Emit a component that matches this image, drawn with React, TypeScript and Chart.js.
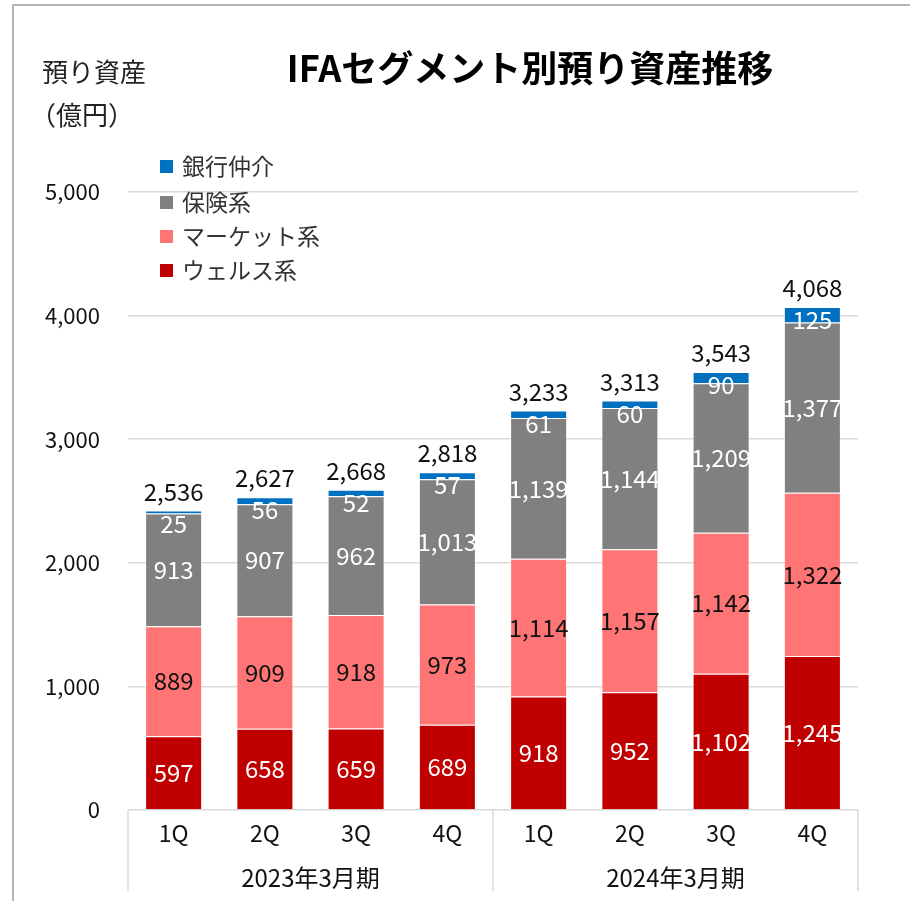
import React, { useEffect, useRef } from "react";
import { Chart, registerables } from "chart.js";

Chart.register(...registerables);

const FONT = '"Noto Sans CJK JP", "Noto Sans", sans-serif';

const categories = ["1Q", "2Q", "3Q", "4Q", "1Q", "2Q", "3Q", "4Q"];
const fiscalGroups = ["2023年3月期", "2024年3月期"];
const groupSizes = [4, 4];

const seriesNames = ["ウェルス系", "マーケット系", "保険系", "銀行仲介"];
const wealth = [597, 658, 659, 689, 918, 952, 1102, 1245];
const market = [889, 909, 918, 973, 1114, 1157, 1142, 1322];
const insurance = [913, 907, 962, 1013, 1139, 1144, 1209, 1377];
const bank = [25, 56, 52, 57, 61, 60, 90, 125];
const totals = [2536, 2627, 2668, 2818, 3233, 3313, 3543, 4068];

const yTickMax = 5000;
const yTickStep = 1000;

const titleText = "IFAセグメント別預り資産推移";
const yTitleLines = ["預り資産", "（億円）"];

const colors = ["#C00000", "#FF7575", "#808080", "#0070C0"];
const labelColors = ["#ffffff", "#111111", "#ffffff", "#ffffff"];

const fmt = (v: number) => v.toLocaleString("en-US");

export default function App() {
  const ref = useRef<HTMLCanvasElement>(null);

  useEffect(() => {
    document.body.style.margin = "0";
    const canvas = ref.current!;

    const decorPlugin = {
      id: "decor",
      beforeDraw(chart: any) {
        const ctx = chart.ctx;
        ctx.save();
        ctx.fillStyle = "#ffffff";
        ctx.fillRect(0, 0, chart.width, chart.height);
        ctx.strokeStyle = "#b4b4b4";
        ctx.lineWidth = 2;
        ctx.strokeRect(13, 5, chart.width + 20, chart.height + 20);
        ctx.restore();
      },
      afterDraw(chart: any) {
        const ctx = chart.ctx;
        const area = chart.chartArea;
        const xs = chart.scales.x;
        ctx.save();
        // title
        ctx.fillStyle = "#000000";
        ctx.font = `bold 36px ${FONT}`;
        ctx.textAlign = "center";
        ctx.textBaseline = "middle";
        ctx.fillText(titleText, 530, 68);
        // y title
        ctx.font = `26px ${FONT}`;
        ctx.textAlign = "left";
        ctx.fillStyle = "#222222";
        ctx.fillText(yTitleLines[0], 42, 72);
        ctx.fillText(yTitleLines[1], 30, 115);

        // legend
        const legendOrder = [3, 2, 1, 0];
        const rowYs = [166, 202, 236, 270];
        ctx.font = `23px ${FONT}`;
        legendOrder.forEach((si, i) => {
          const y = rowYs[i];
          ctx.fillStyle = colors[si];
          ctx.fillRect(160, y - 6, 13, 13);
          ctx.fillStyle = "#333333";
          ctx.textBaseline = "middle";
          ctx.fillText(seriesNames[si], 182, y);
        });

        // x axis: category labels, group labels, dividers
        const bottom = area.bottom;
        ctx.strokeStyle = "#d9d9d9";
        ctx.lineWidth = 1.5;
        const dividers: number[] = [area.left];
        let idx = 0;
        groupSizes.forEach((n) => {
          idx += n;
          if (idx < categories.length) {
            dividers.push((xs.getPixelForValue(idx - 1) + xs.getPixelForValue(idx)) / 2);
          }
        });
        dividers.push(area.right);
        dividers.forEach((x) => {
          ctx.beginPath();
          ctx.moveTo(x, bottom);
          ctx.lineTo(x, bottom + 81);
          ctx.stroke();
        });
        ctx.fillStyle = "#111111";
        ctx.textAlign = "center";
        ctx.font = `23px ${FONT}`;
        categories.forEach((c, i) => {
          ctx.fillText(c, xs.getPixelForValue(i), bottom + 23);
        });
        ctx.font = `24px ${FONT}`;
        fiscalGroups.forEach((g, gi) => {
          const x0 = dividers[gi];
          const x1 = dividers[gi + 1];
          ctx.fillText(g, (x0 + x1) / 2, bottom + 68);
        });
        ctx.restore();
      },
      afterDatasetsDraw(chart: any) {
        const ctx = chart.ctx;
        ctx.save();
        ctx.textAlign = "center";
        ctx.textBaseline = "middle";
        ctx.font = `24px ${FONT}`;
        chart.data.datasets.forEach((ds: any, di: number) => {
          const meta = chart.getDatasetMeta(di);
          meta.data.forEach((el: any, i: number) => {
            const p = el.getProps(["x", "y", "base"], true);
            let y = (p.y + p.base) / 2;
            if (di === 3) y = p.y + 13;
            ctx.fillStyle = labelColors[di];
            ctx.fillText(fmt(ds.data[i]), p.x, y);
            if (di === 3) {
              ctx.fillStyle = "#111111";
              ctx.fillText(fmt(totals[i]), p.x, p.y - 19);
            }
          });
        });
        ctx.restore();
      },
    };

    const dataArrays = [wealth, market, insurance, bank];

    const chart = new Chart(canvas, {
      type: "bar",
      data: {
        labels: categories,
        datasets: dataArrays.map((d, i) => ({
          label: seriesNames[i],
          data: d,
          backgroundColor: colors[i],
          borderColor: "rgba(255,255,255,0.55)",
          borderWidth: 1,
          categoryPercentage: 1,
          barPercentage: 0.625,
        })),
      },
      options: {
        responsive: false,
        animation: false,
        layout: { padding: { left: 0, right: 52, top: 192, bottom: 0 } },
        plugins: {
          legend: { display: false },
          tooltip: { enabled: false },
          title: { display: false },
        },
        scales: {
          x: {
            stacked: true,
            grid: { display: false },
            border: { display: false },
            ticks: { display: false },
            afterFit: (s: any) => {
              s.height = 91;
            },
          },
          y: {
            stacked: true,
            min: 0,
            max: yTickMax,
            border: { display: false },
            grid: { color: "#d9d9d9", lineWidth: 1.5, drawTicks: false },
            ticks: {
              stepSize: yTickStep,
              padding: 28,
              color: "#111111",
              font: { family: FONT, size: 22 },
              callback: (v: any) => fmt(Number(v)),
            },
            afterFit: (s: any) => {
              s.width = 128;
            },
          },
        },
      },
      plugins: [decorPlugin],
    });
    return () => chart.destroy();
  }, []);

  return (
    <div style={{ width: 910, height: 901 }}>
      <canvas ref={ref} width={910} height={901} style={{ display: "block", width: 910, height: 901 }} />
    </div>
  );
}
